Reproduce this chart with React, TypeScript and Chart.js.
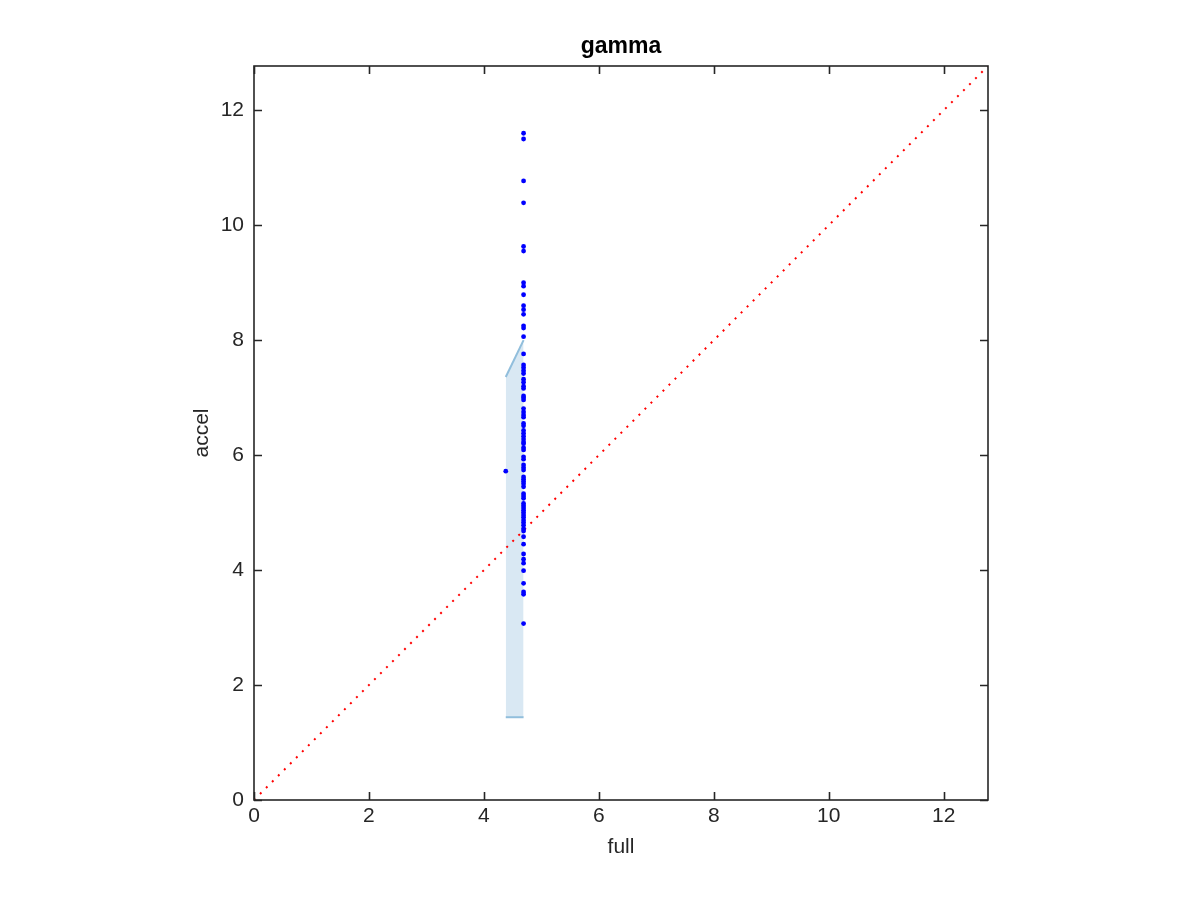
import React, { useEffect, useRef } from "react";
import { Chart, registerables } from "chart.js";

Chart.register(...registerables);

const AXIS_MIN = 0;
const AXIS_MAX = 12.77;
const xTickValues = [0, 2, 4, 6, 8, 10, 12];
const yTickValues = [0, 2, 4, 6, 8, 10, 12];
const chartTitle = "gamma";

const columnX = 4.69;
const columnY = [
  11.6, 11.5, 10.77, 10.39, 9.63, 9.55, 9.0, 8.94, 8.79, 8.6, 8.53, 8.45, 8.25, 8.21, 8.06,
  7.76, 7.57, 7.52, 7.47, 7.42, 7.32, 7.27, 7.2, 7.16, 7.03, 7.0, 6.96, 6.81, 6.75, 6.7,
  6.66, 6.55, 6.51, 6.43, 6.38, 6.33, 6.28, 6.23, 6.2, 6.13, 6.09, 5.97, 5.93, 5.83, 5.78,
  5.74, 5.62, 5.58, 5.54, 5.5, 5.45, 5.33, 5.29, 5.25, 5.16, 5.12, 5.08, 5.04, 5.0, 4.96,
  4.92, 4.87, 4.83, 4.78, 4.72, 4.68, 4.58, 4.45, 4.28, 4.19, 4.12, 3.99, 3.77, 3.62, 3.58,
  3.07,
];
const outlierX = [4.38];
const outlierY = [5.72];

const bandX = [4.38, 4.69];
const bandUpper = [7.36, 8.0];
const bandLower = [1.44, 1.44];

const diagonalX = [0, 12.77];
const diagonalY = [0, 12.77];

const AXIS_COLOR = "#262626";
const FONT = "'Liberation Sans', Arial, Helvetica, sans-serif";

const boxTicksPlugin = {
  id: "boxTicks",
  afterDraw(chart: any) {
    const { ctx, chartArea } = chart;
    const { left, right, top, bottom } = chartArea;
    const xs = chart.scales.x;
    const ys = chart.scales.y;
    const tl = 8;
    ctx.save();
    ctx.strokeStyle = AXIS_COLOR;
    ctx.lineWidth = 1.6;
    ctx.strokeRect(left, top, right - left, bottom - top);
    ctx.beginPath();
    xTickValues.forEach((v) => {
      const px = Math.round(xs.getPixelForValue(v)) + 0.5;
      ctx.moveTo(px, bottom);
      ctx.lineTo(px, bottom - tl);
      ctx.moveTo(px, top);
      ctx.lineTo(px, top + tl);
    });
    yTickValues.forEach((v) => {
      const py = Math.round(ys.getPixelForValue(v)) + 0.5;
      ctx.moveTo(left, py);
      ctx.lineTo(left + tl, py);
      ctx.moveTo(right, py);
      ctx.lineTo(right - tl, py);
    });
    ctx.stroke();

    ctx.fillStyle = "#000000";
    ctx.font = `bold 23px ${FONT}`;
    ctx.textAlign = "center";
    ctx.textBaseline = "middle";
    ctx.fillText(chartTitle, (left + right) / 2, top - 19);
    ctx.restore();
  },
};

export default function App() {
  const canvasRef = useRef<HTMLCanvasElement | null>(null);

  useEffect(() => {
    const canvas = canvasRef.current;
    if (!canvas) return;

    const points = columnY.map((y) => ({ x: columnX, y }));
    outlierX.forEach((x, i) => points.push({ x, y: outlierY[i] }));

    const chart = new Chart(canvas, {
      type: "scatter",
      data: {
        datasets: [
          {
            label: "points",
            data: points,
            pointRadius: 2.4,
            pointBorderWidth: 0,
            pointBackgroundColor: "#0000ff",
            backgroundColor: "#0000ff",
            showLine: false,
          },
          {
            label: "diagonal",
            data: diagonalX.map((x, i) => ({ x, y: diagonalY[i] })),
            showLine: true,
            pointRadius: 0,
            borderColor: "#ff0000",
            borderWidth: 2,
            borderDash: [2, 6.5],
            fill: false,
          },
          {
            label: "lower",
            data: bandX.map((x, i) => ({ x, y: bandLower[i] })),
            showLine: true,
            pointRadius: 0,
            borderColor: "rgb(145,190,220)",
            borderWidth: 2,
            fill: false,
          },
          {
            label: "upper",
            data: bandX.map((x, i) => ({ x, y: bandUpper[i] })),
            showLine: true,
            pointRadius: 0,
            borderColor: "rgb(145,190,220)",
            borderWidth: 2,
            backgroundColor: "rgb(217,232,243)",
            fill: "-1",
          },
        ],
      },
      options: {
        responsive: false,
        animation: false,
        layout: { padding: { top: 66, right: 212, left: 0, bottom: 0 } },
        plugins: {
          legend: { display: false },
          tooltip: { enabled: false },
          title: { display: false },
        },
        scales: {
          x: {
            type: "linear",
            min: AXIS_MIN,
            max: AXIS_MAX,
            grid: { display: false, drawTicks: false },
            border: { display: false },
            ticks: {
              color: AXIS_COLOR,
              font: { family: FONT, size: 21 },
              padding: 4,
              maxRotation: 0,
            },
            afterBuildTicks: (scale: any) => {
              scale.ticks = xTickValues.map((v) => ({ value: v }));
            },
            afterFit: (scale: any) => {
              scale.height = 100;
            },
            title: {
              display: true,
              text: "full",
              color: AXIS_COLOR,
              font: { family: FONT, size: 21 },
              padding: { top: 0, bottom: 40.4 },
            },
          },
          y: {
            type: "linear",
            min: AXIS_MIN,
            max: AXIS_MAX,
            grid: { display: false, drawTicks: false },
            border: { display: false },
            ticks: {
              color: AXIS_COLOR,
              font: { family: FONT, size: 21 },
              padding: 10,
            },
            afterBuildTicks: (scale: any) => {
              scale.ticks = yTickValues.map((v) => ({ value: v }));
            },
            afterFit: (scale: any) => {
              scale.width = 254;
            },
            title: {
              display: true,
              text: "accel",
              color: AXIS_COLOR,
              font: { family: FONT, size: 21 },
              padding: { top: 189.4, bottom: 0 },
            },
          },
        },
      },
      plugins: [boxTicksPlugin],
    });

    return () => chart.destroy();
  }, []);

  return (
    <div style={{ position: "absolute", left: 0, top: 0, width: 1200, height: 900, background: "#ffffff" }}>
      <canvas ref={canvasRef} width={1200} height={900} style={{ display: "block" }} />
    </div>
  );
}
